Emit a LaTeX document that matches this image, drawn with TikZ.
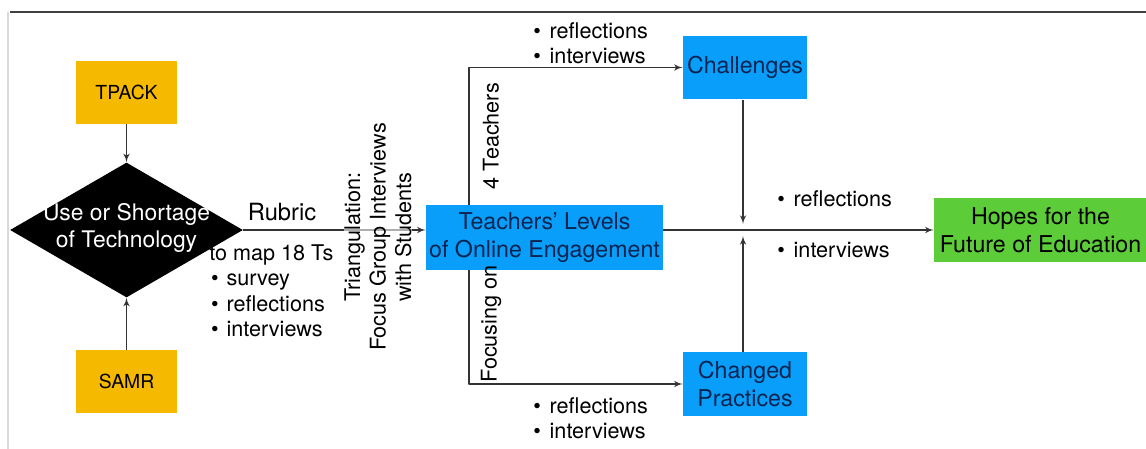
\documentclass[tikz,border=0pt]{standalone}
\usepackage{fontspec}
\setmainfont{TeX Gyre Heros}
\usepackage{xcolor}
\usetikzlibrary{arrows,shapes.geometric}

\definecolor{frameorange}{RGB}{245,185,0}
\definecolor{boxblue}{RGB}{8,158,250}
\definecolor{hopegreen}{RGB}{92,204,56}
\definecolor{navytext}{RGB}{12,36,80}

\begin{document}
\begin{tikzpicture}[>=latex',line join=bevel,x=0.02cm,y=-0.02cm,
  lbl/.style={font=\fontsize{12.3}{14.5}\selectfont,inner sep=0pt,align=left},
  frame/.style={fill=frameorange,minimum width=2.02cm,minimum height=1.26cm,inner sep=0pt,font=\fontsize{11}{13}\selectfont},
  blue/.style={fill=boxblue,text=navytext,minimum width=2.48cm,minimum height=1.28cm,inner sep=0pt,align=center,font=\fontsize{13.2}{15.6}\selectfont},
  link/.style={->,draw=black!80,line width=0.7pt}]

\useasboundingbox (0,0) rectangle (1146,449);

% page frame
\draw[black!75,line width=0.8pt] (10,12) -- (1146,12);
\draw[black!15,line width=0.6pt] (8,12) -- (8,449);

% frameworks and technology
\node[frame] (tpack) at (126.5,92.5) {TPACK};
\node[frame] (samr) at (126.5,381.5) {SAMR};
\node[diamond,fill=black,minimum width=4.66cm,minimum height=2.7cm,inner sep=0pt] (tech) at (126.5,230) {};
\node[text=white,align=center,font=\fontsize{13}{15.4}\selectfont] (techtxt) at (126.5,228) {Use or Shortage\\of Technology};

% engagement and outcomes
\node[blue,minimum width=4.74cm,minimum height=1.3cm] (teach) at (544.5,237.5) {Teachers' Levels\\of Online Engagement};
\node[blue] (chal) at (745,67.5) {Challenges};
\node[blue] (chg) at (745,384) {Changed\\Practices};
\node[fill=hopegreen,minimum width=4.26cm,minimum height=1.28cm,inner sep=0pt,align=center,font=\fontsize{13.2}{15.6}\selectfont] (hope) at (1040.5,230) {Hopes for the\\Future of Education};

\coordinate (brx) at (469,0);
\coordinate (junc) at (743,230);

% connectors
\draw[link] (tpack) -- (tech.north);
\draw[link] (samr) -- (tech.south);
\draw[link] (tech.east) -- (tech.east -| teach.west);
\draw[link] (teach.north -| brx) |- (chal.west);
\draw[link] (teach.south -| brx) |- (chg.west);
\draw[link] (hope.west -| teach.east) -- (hope.west);
\draw[link] (chal.south -| junc) -- ([yshift=3.5pt]junc);
\draw[link] (chg.north -| junc) -- ([yshift=-3.5pt]junc);

% labels
\node[lbl,font=\fontsize{13.5}{15}\selectfont] (rubric) at (282,212) {Rubric};
\node[lbl,anchor=north west] (maplist) at (209,244) {to map 18 Ts\\\hspace{1pt}•\hspace{4.5pt}survey\\\hspace{1pt}•\hspace{4.5pt}reflections\\\hspace{1pt}•\hspace{4.5pt}interviews};
\node[lbl,align=center,rotate=90,fill=white,fill opacity=0.6,text opacity=1] (triang) at (378,237) {Triangulation:\\Focus Group Interviews\\with Students};
\node[lbl,rotate=90] (four) at (491,136) {4 Teachers};
\node[lbl,rotate=90] (focus) at (491,324) {Focusing on};
\node[lbl,anchor=west] (toplist) at (533,43) {•\hspace{5pt}reflections\\•\hspace{5pt}interviews};
\node[lbl,anchor=west] (botlist) at (533,418) {•\hspace{5pt}reflections\\•\hspace{5pt}interviews};
\node[lbl,anchor=west] (rref) at (777,199) {•\hspace{5pt}reflections};
\node[lbl,anchor=west] (rint) at (777,250) {•\hspace{5pt}interviews};

\end{tikzpicture}
\end{document}
